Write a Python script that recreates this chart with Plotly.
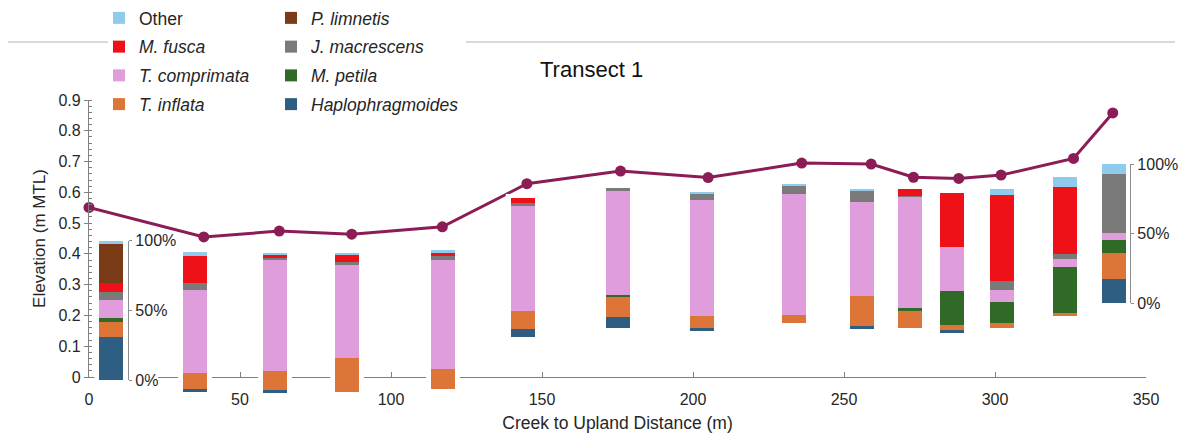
import plotly.graph_objects as go

# ---------------- data ----------------
distance_m = [0, 38, 63, 87, 117, 145, 176, 205, 236, 259, 273, 288, 302, 326, 339]
elevation_m = [0.551, 0.455, 0.474, 0.464, 0.488, 0.628, 0.669, 0.648, 0.695,
               0.692, 0.649, 0.645, 0.656, 0.710, 0.858]

species = ["Haplophragmoides", "T. inflata", "M. petila", "T. comprimata",
           "J. macrescens", "M. fusca", "P. limnetis", "Other"]
haplo      = [31.4, 1.9, 2.0, 0, 0, 6.0, 7.9, 1.9, 0, 1.2, 0, 1.2, 0, 0, 17.7]
inflata    = [10.2, 11.7, 14.0, 24.7, 14.5, 12.7, 14.3, 9.1, 5.5, 21.9, 12.4, 4.0, 3.6, 2.1, 18.6]
petila     = [3.3, 0, 0, 0, 0, 0, 1.7, 0, 0, 0, 1.7, 24.5, 14.8, 33.3, 9.2]
comprimata = [12.9, 59.5, 80.0, 66.4, 78.0, 75.0, 74.3, 82.8, 87.1, 67.4, 80.0, 31.0, 9.1, 5.5, 4.8]
macrescens = [5.7, 4.8, 1.0, 2.2, 2.6, 2.6, 1.9, 4.8, 5.5, 7.6, 0.7, 0, 6.0, 3.6, 42.4]
fusca      = [6.2, 19.8, 2.5, 5.5, 2.2, 3.6, 0, 0, 0, 0, 5.2, 38.8, 62.2, 48.1, 0]
limnetis   = [27.9, 0, 0, 0, 0, 0, 0, 0, 0, 0, 0, 0, 0, 0, 0]
other      = [2.4, 2.4, 0.5, 1.2, 2.6, 0, 0, 1.4, 1.9, 1.9, 0, 0, 4.3, 7.4, 7.3]
series = [haplo, inflata, petila, comprimata, macrescens, fusca, limnetis, other]

x_ticks = [0, 50, 100, 150, 200, 250, 300, 350]
y_ticks = [0, 0.1, 0.2, 0.3, 0.4, 0.5, 0.6, 0.7, 0.8, 0.9]
pct_ticks = [0, 50, 100]
pct_labels = ["0%", "50%", "100%"]

# ---------------- inset placement (layout) ----------------
inset_x = [7.4, 35.1, 61.6, 85.5, 117.2, 143.6, 175.1, 203.1, 233.4, 256.0,
           271.9, 285.9, 302.2, 323.1, 339.3]
inset_base = [-0.010, -0.048, -0.053, -0.048, -0.039, 0.131, 0.158, 0.149, 0.174,
              0.158, 0.158, 0.145, 0.158, 0.199, 0.239]
INSET_H = 0.453
BAR_W = 7.9
axis_insets = {0: 128, 14: 1130}   # inset index -> window pixel x of its % axis

colors = {
    "Other": "#8fcbec",
    "P. limnetis": "#7a3b17",
    "M. fusca": "#ee1117",
    "J. macrescens": "#7a7a7a",
    "T. comprimata": "#df9edb",
    "M. petila": "#2f6b27",
    "T. inflata": "#dd7539",
    "Haplophragmoides": "#2e5f82",
}
legend_of = {"Other": ("legend", 1), "M. fusca": ("legend", 2),
             "T. comprimata": ("legend", 3), "T. inflata": ("legend", 4),
             "P. limnetis": ("legend2", 1), "J. macrescens": ("legend2", 2),
             "M. petila": ("legend2", 3), "Haplophragmoides": ("legend2", 4)}

# ---------------- geometry (window pixels; page body has an 8 px margin) ----------------
OFF = 8
WIN_W, WIN_H = 1195, 437
W, H = WIN_W - OFF, WIN_H - OFF
X0_PX, X350_PX = 89, 1146          # window px of x = 0 and x = 350
TOP_PX = 100                        # window px of elevation 0.9
Y0_PX = 377                         # window px of elevation 0
PAPER_BOTTOM_PX = 407               # window px of paper bottom
ML = X0_PX - OFF
MR = WIN_W - X350_PX
MT = TOP_PX - OFF
MB = WIN_H - PAPER_BOTTOM_PX
PW = X350_PX - X0_PX
PH = PAPER_BOTTOM_PX - TOP_PX
PX_PER_ELEV = (Y0_PX - TOP_PX) / 0.9
M_PER_PX = 350 / PW


def elev_to_paper(e):
    px = Y0_PX - e * PX_PER_ELEV
    return (PAPER_BOTTOM_PX - px) / PH


def px_x(px):
    return (px - X0_PX) / PW


def px_y(py):
    return (PAPER_BOTTOM_PX - py) / PH


LINE_COL = "#8c1c55"
TXT = "#262626"
FONT = "Liberation Sans, Arial, sans-serif"

fig = go.Figure()

# elevation profile
fig.add_trace(go.Scatter(
    x=distance_m, y=elevation_m, mode="lines+markers",
    line=dict(color=LINE_COL, width=3), marker=dict(color=LINE_COL, size=11),
    cliponaxis=False, showlegend=False, xaxis="x", yaxis="y",
    hovertemplate="%{x} m: %{y} m<extra></extra>"))

layout_axes = {}
shapes = []
for i in range(len(inset_x)):
    yname = "yaxis%d" % (i + 2)
    yref = "y%d" % (i + 2)
    pad = 0 if i in axis_insets else 2.6
    lo = elev_to_paper(inset_base[i])
    hi = elev_to_paper(inset_base[i] + INSET_H)
    span = hi - lo
    dom = [lo - span * pad / 100, hi + span * pad / 100]
    ax = dict(domain=dom, range=[-pad, 100 + pad], anchor="x2", fixedrange=True,
              showgrid=False, zeroline=False)
    if i in axis_insets:
        ax.update(visible=True, anchor="free", position=px_x(axis_insets[i]),
                  side="right", showline=True, linecolor="#8c8c8c", linewidth=1.3,
                  ticks="outside", ticklen=3, tickcolor="#8c8c8c",
                  tickvals=pct_ticks, ticktext=pct_labels,
                  tickfont=dict(size=16, color=TXT, family=FONT))
    else:
        ax.update(visible=False)
    layout_axes[yname] = ax

    # white inset background (hides axis / profile line behind the inset)
    mpx = 5 * M_PER_PX
    x0 = inset_x[i] - BAR_W / 2 - mpx
    x1 = inset_x[i] + BAR_W / 2 + mpx
    if i == 0:
        x1 = (158 - X0_PX) * M_PER_PX
    shapes.append(dict(type="rect", xref="x2", yref=yref, x0=x0, x1=x1,
                       y0=-pad, y1=100 + pad, fillcolor="white",
                       line=dict(width=0), layer="below"))

    for name, vals in zip(species, series):
        label = name if name == "Other" else "<i>%s</i>" % name
        lg, rank = legend_of[name]
        fig.add_trace(go.Bar(
            x=[inset_x[i]], y=[vals[i]], width=[BAR_W], xaxis="x2", yaxis=yref,
            marker=dict(color=colors[name], line=dict(width=0)),
            name=label, legendgroup=name, showlegend=(i == 0),
            legend=lg, legendrank=rank,
            hovertemplate=name + ": %{y}%<extra></extra>"))

# separator lines at the top
for xa, xb in [(8, 108), (466, 1175)]:
    shapes.append(dict(type="line", xref="paper", yref="paper",
                       x0=px_x(xa), x1=px_x(xb), y0=px_y(42), y1=px_y(42),
                       line=dict(color="#d9d9d9", width=2), layer="below"))

legend_common = dict(orientation="v", traceorder="grouped", tracegroupgap=3,
                     font=dict(size=17.5, color=TXT, family=FONT), bgcolor="rgba(0,0,0,0)",
                     xanchor="left", yanchor="top", itemclick=False, itemdoubleclick=False)

fig.update_layout(
    width=W, height=H,
    margin=dict(l=ML, r=MR, t=MT, b=MB, autoexpand=False),
    paper_bgcolor="white", plot_bgcolor="rgba(0,0,0,0)",
    barmode="stack", bargap=0,
    font=dict(family=FONT, color=TXT),
    showlegend=True,
    legend=dict(legend_common, x=px_x(99), y=px_y(0)),
    legend2=dict(legend_common, x=px_x(271), y=px_y(0)),
    xaxis=dict(domain=[0, 1], range=[0, 350], anchor="y", tickvals=x_ticks,
               showline=True, linecolor="#7f7f7f", linewidth=1.3,
               ticks="inside", ticklen=5, tickcolor="#7f7f7f",
               showgrid=False, zeroline=False, fixedrange=True,
               tickfont=dict(size=16, color=TXT), ticklabelstandoff=8,
               title=dict(text="Creek to Upland Distance (m)", font=dict(size=17.5, color=TXT),
                          standoff=9)),
    yaxis=dict(domain=[elev_to_paper(0), elev_to_paper(0.9)], range=[0, 0.9], anchor="x",
               tickvals=y_ticks, showline=True, linecolor="#7f7f7f", linewidth=1.3,
               ticks="outside", ticklen=4, tickcolor="#7f7f7f",
               minor=dict(tickvals=[round(k * 0.02, 2) for k in range(46)],
                          ticks="inside", ticklen=3, tickcolor="#7f7f7f", showgrid=False),
               showgrid=False, zeroline=False, fixedrange=True,
               tickfont=dict(size=16, color=TXT),
               title=dict(text="Elevation (m MTL)", font=dict(size=17, color=TXT), standoff=8)),
    xaxis2=dict(domain=[0, 1], range=[0, 350], anchor="y2", visible=False, fixedrange=True),
    shapes=shapes,
    annotations=[dict(text="Transect 1", xref="paper", yref="paper",
                      x=px_x(591), y=px_y(70), xanchor="center", yanchor="middle",
                      showarrow=False, font=dict(size=22, color="#111111", family=FONT))],
    **layout_axes,
)

fig.write_html("out.html")
